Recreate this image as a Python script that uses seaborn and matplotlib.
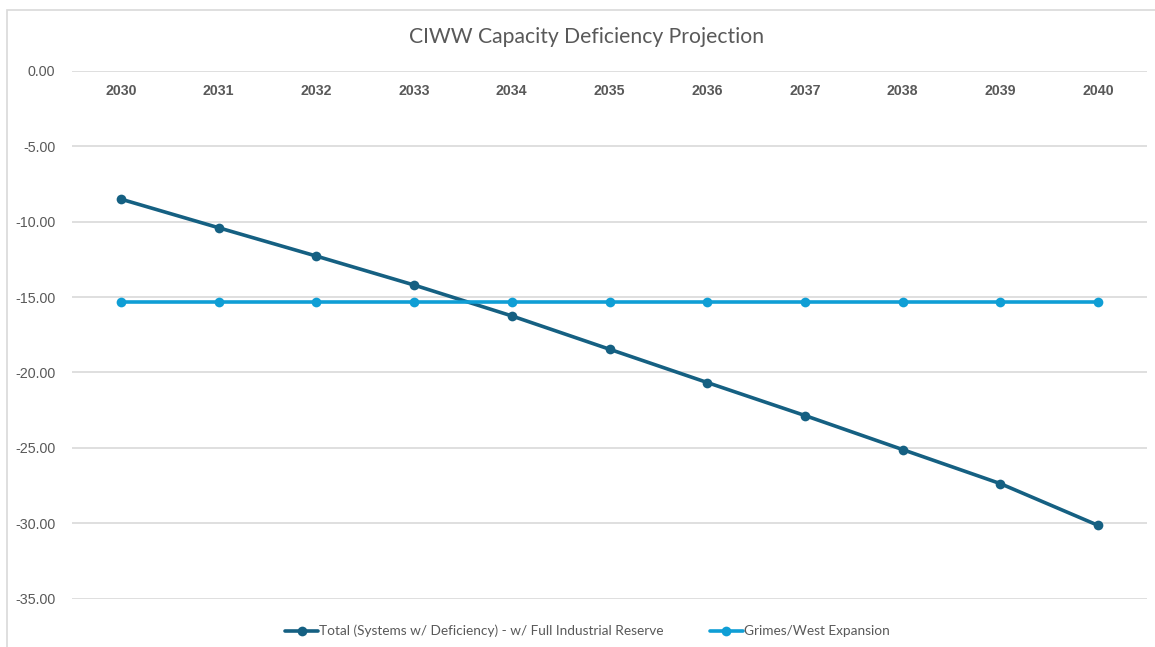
import pandas as pd
import matplotlib.pyplot as plt
import seaborn as sns
from matplotlib.patches import Rectangle

# Dữ liệu
years = [2030, 2031, 2032, 2033, 2034, 2035, 2036, 2037, 2038, 2039, 2040]
total_deficiency = [-8.50, -10.40, -12.28, -14.20, -16.25, -18.46, -20.67, -22.86, -25.12, -27.38, -30.15]
grimes_west = [-15.33] * len(years)
series_names = ['Total (Systems w/ Deficiency) - w/ Full Industrial Reserve',
                'Grimes/West Expansion']
y_ticks = [0, -5, -10, -15, -20, -25, -30, -35]

df = pd.DataFrame({
    'year': years * 2,
    'value': total_deficiency + grimes_west,
    'series': [series_names[0]] * len(years) + [series_names[1]] * len(years),
})

sns.set_style('white')
plt.rcParams['font.family'] = ['Liberation Sans', 'DejaVu Sans']
text_color = '#595959'
grid_color = '#d9d9d9'

fig = plt.figure(figsize=(11.55, 6.47), dpi=100)
ax = fig.add_axes([72 / 1155, 1 - 598.5 / 647, (1147 - 72) / 1155, (598.5 - 71) / 647])

# khung ngoài của biểu đồ
fig.patches.append(Rectangle((7 / 1155, -0.05), 1.1, 1 - 10 / 647 + 0.05,
                             transform=fig.transFigure, fill=False,
                             edgecolor=grid_color, linewidth=1.2))

sns.lineplot(data=df, x='year', y='value', hue='series', marker='o',
             palette={series_names[0]: '#156082', series_names[1]: '#0f9ed5'},
             linewidth=2.6, markersize=7, markeredgewidth=0, ax=ax)

ax.set_xlim(2029.5, 2040.5)
ax.set_ylim(-35, 0)
ax.set_yticks(y_ticks)
ax.set_yticklabels([f'{v:.2f}' for v in y_ticks])
ax.set_xticks(years)
ax.set_xticklabels([str(y) for y in years])
ax.spines['bottom'].set_position(('data', 0))
for s in ax.spines.values():
    s.set_visible(False)
ax.yaxis.grid(True, color=grid_color, linewidth=1.2)
ax.set_axisbelow(True)
ax.tick_params(axis='x', length=0, pad=9.5, labelsize=10.2, labelcolor=text_color)
ax.tick_params(axis='y', length=0, pad=12, labelsize=10.3, labelcolor=text_color)
for lbl in ax.get_xticklabels():
    lbl.set_fontweight('bold')
ax.set_xlabel('')
ax.set_ylabel('')

fig.text(0.508, 1 - 37 / 647, 'CIWW Capacity Deficiency Projection', ha='center', va='center',
         fontsize=15.2, color=text_color, family=['Lato', 'DejaVu Sans'])

ax.legend(loc='center', bbox_to_anchor=(0.4795, (598.5 - 631) / (598.5 - 71)), ncol=2, frameon=False,
          labelcolor=text_color, handlelength=2.4, handletextpad=0.1,
          columnspacing=3.4, prop={'family': ['Lato', 'DejaVu Sans'], 'size': 9.8})

fig.savefig('out.png', dpi=100)
